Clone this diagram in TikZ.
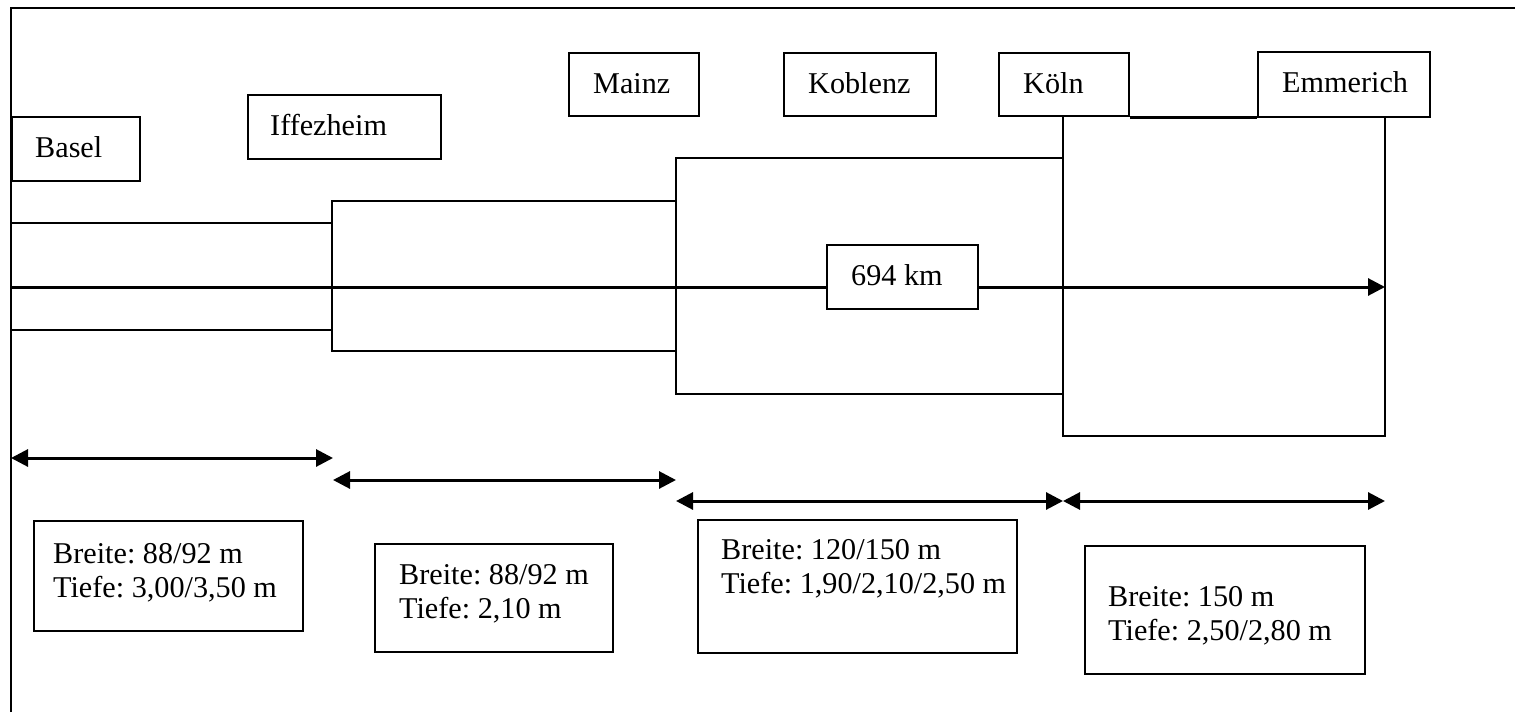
\documentclass[tikz,border=0pt]{standalone}
\usepackage{fontspec}
\setmainfont{Liberation Serif}
\usetikzlibrary{arrows.meta}
\frenchspacing
% #1 height, #2 width, #3 left padding, #4 first baseline, #5 text
\newcommand\mytext[5]{\parbox[t][#1][t]{#2}{\leftskip=#3\rightskip=0pt plus 1fil\parfillskip=0pt plus 1fil\rule{0pt}{#4}#5}}
\begin{document}
\begin{tikzpicture}[x=0.5pt,y=-0.5pt, line width=1.2pt,
  >={Triangle[length=8.5pt,width=8.5pt]},
  tbox/.style={draw, fill=white, anchor=north west, inner xsep=0pt, inner ysep=0pt,
    font=\fontsize{15.1}{17.3}\selectfont}]
\useasboundingbox (0,0) rectangle (1515,712);
% frame
\draw (11,712) -- (11,8) -- (1515,8);
% river outline
\draw (11,223) -- (332,223) (11,330) -- (332,330);
\draw (332,201) rectangle (676,351);
\draw (676,158) rectangle (1063,394);
% main arrow
\coordinate (s0) at (11,287);
\coordinate (s4) at (1385,287);
\draw[->, line width=1.5pt] (s0) -- (s4);
% city boxes
\node[tbox] (basel) at (11,116) {\mytext{32pt}{64pt}{11.5pt}{20pt}{Basel}};
\node[tbox] (iff) at (247,94) {\mytext{32pt}{96.5pt}{11pt}{20pt}{Iffezheim}};
\node[tbox] (mainz) at (568,52) {\mytext{31.5pt}{65pt}{12pt}{20pt}{Mainz}};
\node[tbox] (kob) at (783,52) {\mytext{31.5pt}{76pt}{12pt}{20pt}{Koblenz}};
\node[tbox] (koeln) at (998,52) {\mytext{31.5pt}{65pt}{12pt}{20pt}{Köln}};
\node[tbox] (emm) at (1257,51) {\mytext{32.5pt}{86pt}{12pt}{20pt}{Emmerich}};
% last segment
\coordinate (k1) at (1063,436);
\coordinate (e1) at (1385,436);
\draw (koeln.south -| k1) -- (k1) -- (e1) -- (emm.south -| e1);
\draw (koeln.south east) -- (koeln.south east -| emm.west);
% km label
\node[tbox] (km) at (826,244) {\mytext{32pt}{75.5pt}{12pt}{20pt}{694 km}};
% section arrows
\coordinate (a1l) at (11,458);  \coordinate (a1r) at (333,458);
\coordinate (a2l) at (333,480); \coordinate (a2r) at (676,480);
\coordinate (a3l) at (676,501); \coordinate (a3r) at (1063,501);
\coordinate (a4l) at (1063,501); \coordinate (a4r) at (1385,501);
\draw[<->, line width=1.5pt] (a1l) -- (a1r);
\draw[<->, line width=1.5pt] (a2l) -- (a2r);
\draw[<->, line width=1.5pt] (a3l) -- (a3r);
\draw[<->, line width=1.5pt] (a4l) -- (a4r);
% info boxes
\node[tbox] (b1) at (33,520) {\mytext{55pt}{134.5pt}{9.5pt}{21pt}{Breite: 88/92 m\\Tiefe: 3,00/3,50 m}};
\node[tbox] (b2) at (374,543) {\mytext{54pt}{119pt}{12pt}{20pt}{Breite: 88/92 m\\Tiefe: 2,10 m}};
\node[tbox] (b3) at (697,519) {\mytext{66.5pt}{159.5pt}{11.5pt}{19.5pt}{Breite: 120/150 m\\Tiefe: 1,90/2,10/2,50 m}};
\node[tbox] (b4) at (1084,545) {\mytext{64pt}{140pt}{11.5pt}{30pt}{Breite: 150 m\\Tiefe: 2,50/2,80 m}};
\end{tikzpicture}
\end{document}
